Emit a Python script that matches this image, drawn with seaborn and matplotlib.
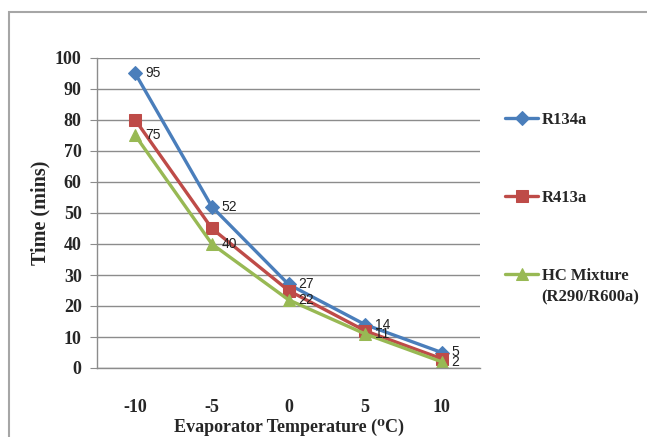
import matplotlib
matplotlib.use("Agg")
import matplotlib.pyplot as plt
import seaborn as sns
import pandas as pd
from matplotlib.ticker import FixedLocator
from matplotlib.patches import Rectangle

categories = ["-10", "-5", "0", "5", "10"]
r134a = [95, 52, 27, 14, 5]
r413a = [80, 45, 25, 12, 3]
hc_mix = [75, 40, 22, 11, 2]
series_names = ["R134a", "R413a", "HC Mixture"]
y_ticks = [0, 10, 20, 30, 40, 50, 60, 70, 80, 90, 100]

colors = {"R134a": "#4a7ebb", "R413a": "#be4b48", "HC Mixture": "#98b954"}
markers = {"R134a": "D", "R413a": "s", "HC Mixture": "^"}

rows = []
for name, vals in zip(series_names, [r134a, r413a, hc_mix]):
    for c, v in zip(categories, vals):
        rows.append({"Temp": c, "Time": v, "Series": name})
df = pd.DataFrame(rows)

sns.set_style("white")
serif = ["Liberation Serif", "DejaVu Serif"]
narrow = ["Liberation Sans Narrow", "Liberation Sans", "DejaVu Sans"]

fig = plt.figure(figsize=(6.47, 4.37), dpi=100)
ax = fig.add_axes([97 / 647, 1 - 368 / 437, (480 - 97) / 647, (368 - 58) / 437])

for name in series_names:
    sub = df[df.Series == name]
    sns.lineplot(data=sub, x="Temp", y="Time", ax=ax, color=colors[name],
                 marker=markers[name], markersize={"D": 7.5, "s": 9, "^": 9}[markers[name]],
                 markeredgecolor=colors[name], linewidth=2.4, label=name, sort=False)

# data labels (R134a and HC Mixture)
for vals in [r134a, hc_mix]:
    for i, v in enumerate(vals):
        ax.annotate(str(v), (i, v), xytext=(7, 0), textcoords="offset points",
                    ha="left", va="center", fontsize=10, family=narrow, color="#222222")

ax.set_xlim(-0.5, 4.5)
ax.set_ylim(0, 100)
ax.yaxis.set_major_locator(FixedLocator(y_ticks))
ax.grid(axis="y", color="#8c8c8c", linewidth=1)
ax.grid(axis="x", visible=False)
for s in ["top", "right"]:
    ax.spines[s].set_visible(False)
for s in ["left", "bottom"]:
    ax.spines[s].set_color("#8c8c8c")
    ax.spines[s].set_linewidth(1)

ax.xaxis.set_minor_locator(FixedLocator([-0.5, 0.5, 1.5, 2.5, 3.5, 4.5]))
ax.tick_params(axis="x", which="major", length=0, pad=22)
ax.tick_params(axis="x", which="minor", length=5, color="#8c8c8c", direction="out")
ax.tick_params(axis="y", which="major", length=5, color="#8c8c8c", direction="out", left=True, pad=6)
for lab in ax.get_xticklabels() + ax.get_yticklabels():
    lab.set_family(serif)
    lab.set_fontweight("bold")
    lab.set_fontsize(13)

ax.set_xlabel("Evaporator Temperature (\u2070C)", family=serif, fontweight="bold", fontsize=13, labelpad=2)
ax.set_ylabel("Time (mins)", family=serif, fontweight="bold", fontsize=14.5, labelpad=3)

leg = ax.legend(loc="upper left", bbox_to_anchor=(505 / 647, 1 - 112 / 437),
                bbox_transform=fig.transFigure, frameon=False, borderpad=0,
                borderaxespad=0, handlelength=2.0, handletextpad=0.2,
                labelspacing=3.72, prop={"family": serif, "weight": "bold", "size": 12})
fig.text(541 / 647, 1 - 297 / 437, "(R290/R600a)", family=serif, fontweight="bold",
         fontsize=12, ha="left", va="center")

# outer frame
fig.patches.append(Rectangle((9 / 647, -0.1), 1.2, 1 - 12 / 437 + 0.1, transform=fig.transFigure,
                             fill=False, edgecolor="#a6a6a6", linewidth=1.5))

fig.savefig("out.png", dpi=100)
